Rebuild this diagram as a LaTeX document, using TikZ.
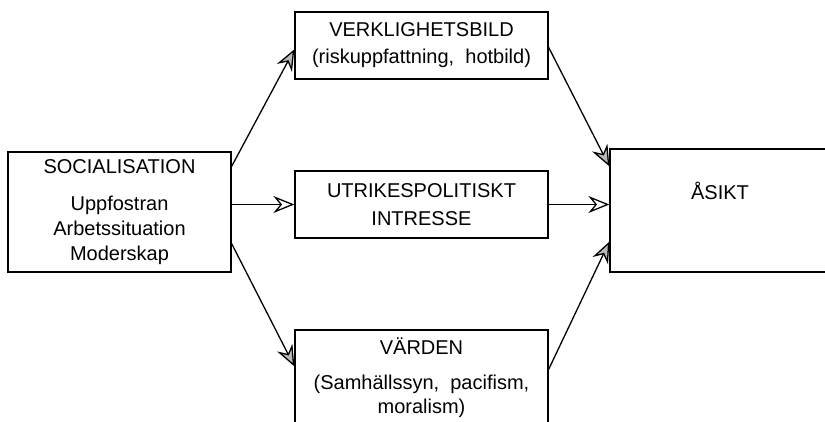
\documentclass[tikz,border=0pt]{standalone}
\usepackage{fontspec}
\setmainfont{Liberation Sans}
\usetikzlibrary{arrows.meta}

\begin{document}
\begin{tikzpicture}[
  x=1pt, y=-1pt,
  font=\fontsize{20}{25}\selectfont,
  box/.style={draw, line width=1.3pt, align=center, inner sep=0pt},
  arr/.style={-{Stealth[length=21pt, width=17pt, inset=7pt, fill=gray!55]}, line width=1.3pt},
  harr/.style={arr, -{Stealth[length=21pt, width=17pt, inset=7pt, fill=white]}},
]
\useasboundingbox (0,0) rectangle (825,421);
\clip (0,0) rectangle (825,421);

% ---------------- boxes ----------------
\node[box, minimum width=223, minimum height=120] (soc) at (119.5,212)
  {SOCIALISATION\\[12pt] Uppfostran\\ Arbetssituation\\ Moderskap};
\node[box, minimum width=253, minimum height=67] (verk) at (421.5,45.5)
  {VERKLIGHETSBILD\\[2pt] (riskuppfattning,\ \ hotbild)};
\node[box, minimum width=253, minimum height=67] (utr) at (421.5,204.5)
  {UTRIKESPOLITISKT\\[3pt] INTRESSE};
\node[box, minimum width=253, minimum height=95] (vard) at (421.5,377.5)
  {VÄRDEN\\[10pt] (Samhällssyn,\ \ pacifism,\\[-1pt] moralism)};
\node[box, minimum width=220, minimum height=123] (asikt) at (720,210.5) {};
\node (asiktlbl) at ([yshift=-43]asikt.north) {ÅSIKT};

% ---------------- arrows ----------------
\draw[arr]  ([yshift=-15]soc.north east) -- ([yshift=-38]verk.north west);
\draw[harr] (soc.east |- utr.west) -- (utr.west);
\draw[arr]  ([yshift=29]soc.south east) -- ([yshift=-37]vard.north west);

\draw[arr]  ([yshift=-36]verk.north east) -- ([yshift=-18]asikt.north west);
\draw[harr] (utr.east) -- (asikt.west |- utr.east);
\draw[arr]  ([yshift=-40]vard.north east) -- ([yshift=31]asikt.south west);

\end{tikzpicture}
\end{document}
